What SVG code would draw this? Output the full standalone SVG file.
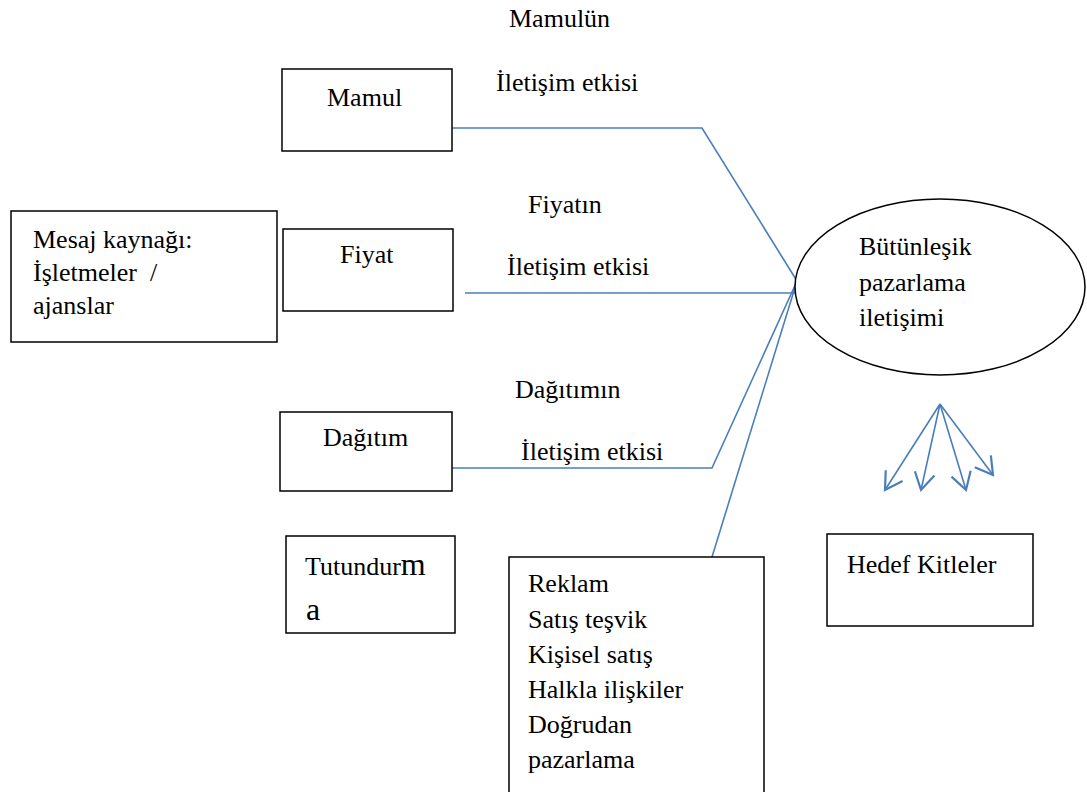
<svg xmlns="http://www.w3.org/2000/svg" width="1087" height="792" viewBox="0 0 1087 792">
<defs>
<style>
.t{font-family:"Liberation Serif","Times New Roman",serif;font-size:26px;fill:#000}
.big{font-size:32px}
.b{fill:#fff;stroke:#000;stroke-width:1.5}
.c{fill:none;stroke:#4a7ebb;stroke-width:1.6}
</style>
<marker id="ah" markerUnits="userSpaceOnUse" markerWidth="30" markerHeight="30" refX="0" refY="0" orient="auto" overflow="visible" viewBox="-20 -15 30 30">
<path d="M-17,-10 L0,0 L-17,10" fill="none" stroke="#4a7ebb" stroke-width="2.2"/>
</marker>
</defs>
<rect width="1087" height="792" fill="#fff"/>
<g id="labels">
<text class="t" x="509" y="27">Mamulün</text>
<text class="t" x="496" y="91">İletişim etkisi</text>
<text class="t" x="528" y="213">Fiyatın</text>
<text class="t" x="507" y="275">İletişim etkisi</text>
<text class="t" x="515" y="398">Dağıtımın</text>
<text class="t" x="521" y="460">İletişim etkisi</text>
</g>
<g id="connectors">
<polyline class="c" points="452,128 702,128 797,281"/>
<polyline class="c" points="465,293 797,293"/>
<polyline class="c" points="452,468 712,468 797,281"/>
<polyline class="c" points="712,557 797,281"/>
<line class="c" x1="940" y1="404" x2="885" y2="490" marker-end="url(#ah)"/>
<line class="c" x1="940" y1="404" x2="921" y2="490" marker-end="url(#ah)"/>
<line class="c" x1="940" y1="404" x2="966" y2="490" marker-end="url(#ah)"/>
<line class="c" x1="940" y1="404" x2="993" y2="475" marker-end="url(#ah)"/>
</g>
<g id="mamul">
<rect class="b" x="282" y="69" width="170" height="82"/>
<text class="t" x="327" y="106">Mamul</text>
</g>
<g id="mesaj">
<rect class="b" x="11" y="211" width="266" height="131"/>
<text class="t" x="33" y="248">Mesaj kaynağı:</text>
<text class="t" x="33" y="281" xml:space="preserve">İşletmeler  /</text>
<text class="t" x="33" y="314">ajanslar</text>
</g>
<g id="fiyat">
<rect class="b" x="283" y="229" width="170" height="82"/>
<text class="t" x="340" y="263">Fiyat</text>
</g>
<g id="dagitim">
<rect class="b" x="280" y="412" width="172" height="79"/>
<text class="t" x="323" y="446">Dağıtım</text>
</g>
<g id="tutundurma">
<rect class="b" x="286" y="536" width="169" height="97"/>
<text class="t" x="305" y="575">Tutundur<tspan class="big">m</tspan></text>
<text class="t big" x="306" y="620">a</text>
</g>
<g id="araclar">
<rect class="b" x="509" y="557" width="255" height="250"/>
<text class="t" x="528" y="592">Reklam</text>
<text class="t" x="528" y="628">Satış teşvik</text>
<text class="t" x="528" y="663">Kişisel satış</text>
<text class="t" x="528" y="698">Halkla ilişkiler</text>
<text class="t" x="528" y="733">Doğrudan</text>
<text class="t" x="528" y="768">pazarlama</text>
</g>
<g id="bpi">
<ellipse class="b" cx="940" cy="287" rx="145" ry="88"/>
<text class="t" x="859" y="255">Bütünleşik</text>
<text class="t" x="859" y="291">pazarlama</text>
<text class="t" x="859" y="326">iletişimi</text>
</g>
<g id="hedef">
<rect class="b" x="827" y="534" width="206" height="92"/>
<text class="t" x="847" y="573">Hedef Kitleler</text>
</g>
</svg>
